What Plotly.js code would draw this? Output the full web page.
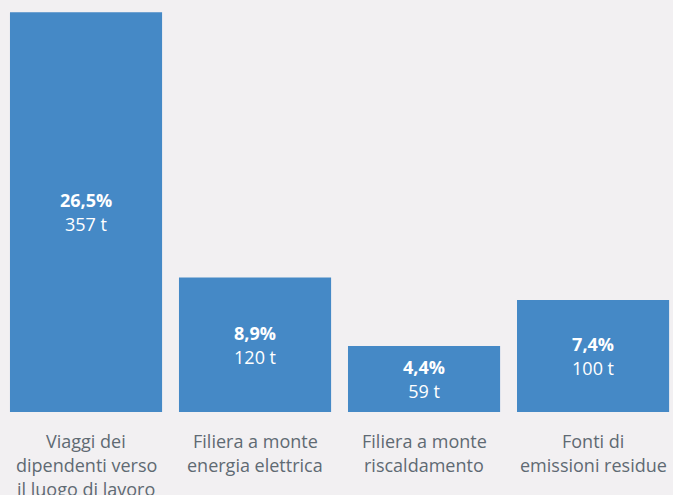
<!DOCTYPE html>
<html><head><meta charset="utf-8">
<script src="https://cdn.plot.ly/plotly-3.0.1.min.js"></script>
<style>html,body{margin:0;padding:0;background:#f2f0f2;}#chart{width:673px;height:495px;}</style>
</head><body><div id="chart"></div>
<script>
const categories = ["Viaggi dei<br>dipendenti verso<br>il luogo di lavoro", "Filiera a monte<br>energia elettrica", "Filiera a monte<br>riscaldamento", "Fonti di<br>emissioni residue"];
const tonnes = [357, 120, 59, 100];
const percents = ["26,5%", "8,9%", "4,4%", "7,4%"];

const xs = categories.map((c, i) => i);
const texts = tonnes.map((t, i) => "<b>" + percents[i] + "</b><br>" + t + " t");

const annotations = [];
categories.forEach((c, i) => {
  c.split("<br>").forEach((line, j) => {
    annotations.push({
      x: i, xref: "x", y: 0, yref: "paper",
      yanchor: "middle", xanchor: "center",
      yshift: -(29 + 24 * j),
      text: line, showarrow: false,
      font: {family: "'Open Sans', sans-serif", size: 18, color: "#5f6a73"}
    });
  });
});

const data = [{
  type: "bar",
  x: xs, y: tonnes,
  text: texts,
  textposition: "inside",
  insidetextanchor: "middle",
  textangle: 0,
  textfont: {family: "'Open Sans', sans-serif", size: 18, color: "#ffffff"},
  marker: {color: "#4589c6"},
  hoverinfo: "none",
  cliponaxis: false
}];

const layout = {
  width: 673, height: 495,
  margin: {l: 0, r: 0, t: 0, b: 83},
  paper_bgcolor: "#f2f0f2",
  plot_bgcolor: "#f2f0f2",
  bargap: 0.1,
  showlegend: false,
  xaxis: {range: [-0.509, 3.473], showticklabels: false, showgrid: false, zeroline: false, showline: false, ticks: ""},
  yaxis: {range: [0, 367.9], showticklabels: false, showgrid: false, zeroline: false, showline: false, ticks: ""},
  uniformtext: {mode: false},
  annotations: annotations
};

Plotly.newPlot("chart", data, layout, {displayModeBar: false, staticPlot: true});
</script></body></html>
